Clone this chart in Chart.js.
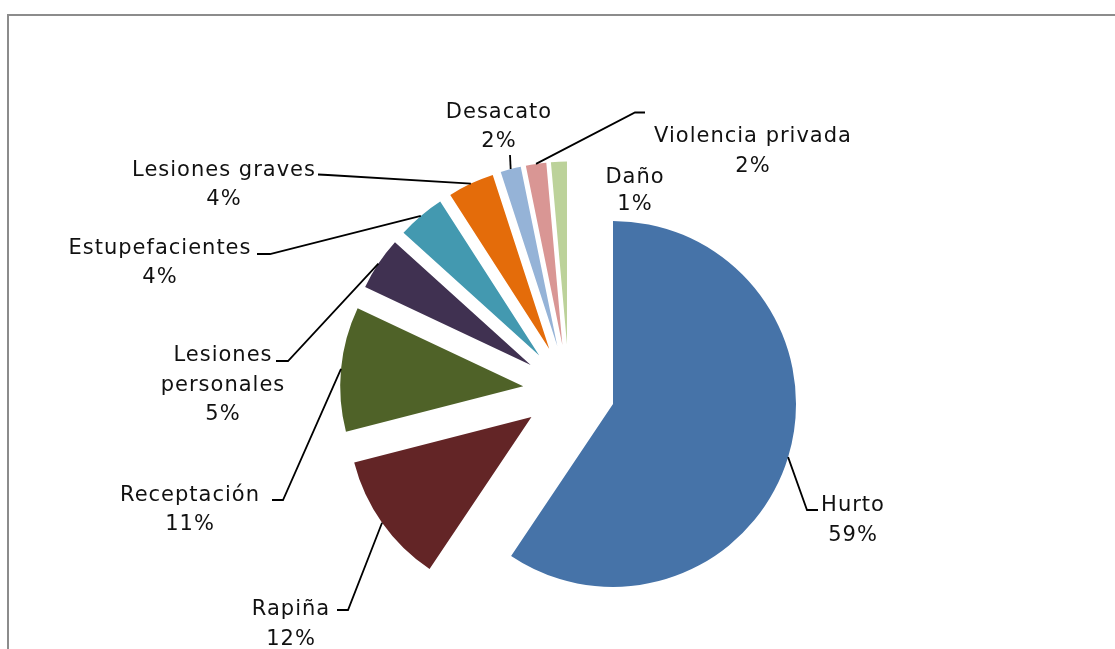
<!DOCTYPE html>
<html>
<head>
<meta charset="utf-8">
<script src="https://cdn.jsdelivr.net/npm/chart.js@4"></script>
<style>
html,body{margin:0;padding:0;background:#fff;overflow:hidden}
#wrap{position:relative;width:1115px;height:649px;overflow:hidden}
#frame{position:absolute;left:7px;top:14px;width:1200px;height:800px;border-left:2px solid #8c8c8c;border-top:2px solid #8c8c8c}
#c{position:absolute;left:0;top:0}
</style>
</head>
<body>
<div id="wrap"><div id="frame"></div><canvas id="c" width="1115" height="649"></canvas></div>
<script>
// ---- data ----
const categories = ['Hurto', 'Rapiña', 'Receptación', 'Lesiones personales', 'Estupefacientes', 'Lesiones graves', 'Desacato', 'Violencia privada', 'Daño'];
const values = [59.4, 11.6, 11.0, 4.7, 4.2, 4.1, 1.8, 1.8, 1.4];
const labelLines = [['Hurto'], ['Rapiña'], ['Receptación'], ['Lesiones', 'personales'], ['Estupefacientes'], ['Lesiones graves'], ['Desacato'], ['Violencia privada'], ['Daño']];

// ---- style / layout ----
const colors = ['#4673A8', '#632526', '#4F6228', '#403151', '#4399B0', '#E46C0A', '#95B3D7', '#D99694', '#BCD29A'];
const EXPLODE = 46;
const FONT = '21px "DejaVu Sans"';
const LETTER_SPACING = '1px';
// label text centre x, baselines of each line, leader elbow points (label side first)
const labelLayout = [
  {x: 853, base: [511, 541], leader: [[818, 510], [807, 510]]},
  {x: 291, base: [615, 645], leader: [[337, 610], [348, 610]]},
  {x: 190, base: [501, 530], leader: [[272, 500], [283, 500]]},
  {x: 223, base: [361, 390.5, 419.5], leader: [[276, 361], [288, 361]]},
  {x: 160, base: [254, 283], leader: [[257, 254], [270, 254]]},
  {x: 224, base: [176, 205], leader: [[318, 174.5], [328, 175]]},
  {x: 499, base: [118, 147], leader: [[510, 155]]},
  {x: 753, base: [142, 171.5], leader: [[645, 112.5], [635, 112.5]]},
  {x: 635, base: [183, 210], leader: []}
];

const total = values.reduce((a, b) => a + b, 0);
const pctLabels = values.map(v => Math.round(v / total * 100) + '%');

const explodePlugin = {
  id: 'explode',
  beforeDatasetDraw(chart, args) {
    const ctx = chart.ctx;
    args.meta.data.forEach(arc => {
      const mid = (arc.startAngle + arc.endAngle) / 2;
      ctx.save();
      ctx.translate(Math.cos(mid) * EXPLODE, Math.sin(mid) * EXPLODE);
      arc.draw(ctx);
      ctx.restore();
    });
    return false;
  }
};

const labelPlugin = {
  id: 'labels',
  afterDraw(chart) {
    const ctx = chart.ctx;
    const meta = chart.getDatasetMeta(0);
    ctx.save();
    meta.data.forEach((arc, i) => {
      const mid = (arc.startAngle + arc.endAngle) / 2;
      const r = arc.outerRadius + EXPLODE;
      const px = arc.x + Math.cos(mid) * r;
      const py = arc.y + Math.sin(mid) * r;
      const lay = labelLayout[i];
      if (lay.leader.length) {
        ctx.beginPath();
        ctx.strokeStyle = '#000';
        ctx.lineWidth = 1.8;
        ctx.lineJoin = 'miter';
        ctx.moveTo(lay.leader[0][0], lay.leader[0][1]);
        for (let k = 1; k < lay.leader.length; k++) ctx.lineTo(lay.leader[k][0], lay.leader[k][1]);
        ctx.lineTo(px, py);
        ctx.stroke();
      }
      const lines = labelLines[i].concat([pctLabels[i]]);
      ctx.font = FONT;
      try { ctx.letterSpacing = LETTER_SPACING; } catch (e) {}
      ctx.fillStyle = '#111';
      ctx.textAlign = 'center';
      ctx.textBaseline = 'alphabetic';
      lines.forEach((t, k) => ctx.fillText(t, lay.x, lay.base[k]));
    });
    ctx.restore();
  }
};

new Chart(document.getElementById('c'), {
  type: 'pie',
  data: {
    labels: categories,
    datasets: [{data: values, backgroundColor: colors, borderWidth: 0, offset: 0, hoverOffset: 0}]
  },
  options: {
    responsive: false,
    animation: false,
    devicePixelRatio: 1,
    radius: 183,
    rotation: 0,
    layout: {padding: {left: 23, right: 0, top: 132, bottom: 0}},
    events: [],
    plugins: {legend: {display: false}, tooltip: {enabled: false}}
  },
  plugins: [explodePlugin, labelPlugin]
});
</script>
</body>
</html>
